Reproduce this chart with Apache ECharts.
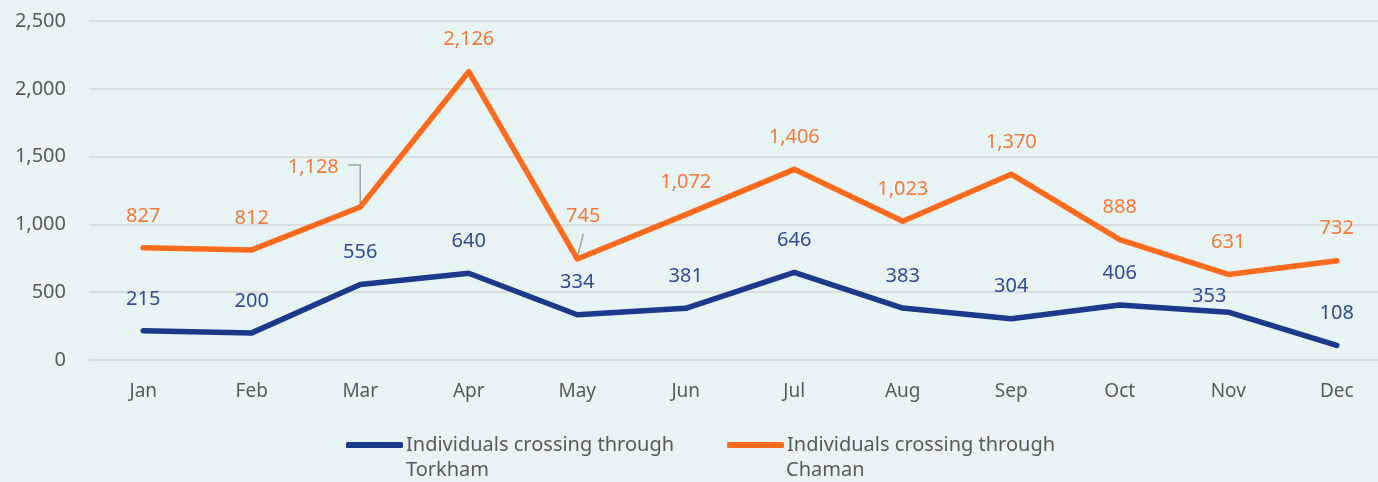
<!DOCTYPE html>
<html><head><meta charset="utf-8">
<style>html,body{margin:0;padding:0;background:#e8f3f3;overflow:hidden;}#c{width:1391px;height:482px;}</style>
<script src="https://cdn.jsdelivr.net/npm/echarts@6/dist/echarts.min.js"></script>
</head><body><div id="c"></div>
<script>
const months = ['Jan','Feb','Mar','Apr','May','Jun','Jul','Aug','Sep','Oct','Nov','Dec'];
const torkham = [215,200,556,640,334,381,646,383,304,406,353,108];
const chaman = [827,812,1128,2126,745,1072,1406,1023,1370,888,631,732];
const seriesNames = ['Individuals crossing through Torkham','Individuals crossing through Chaman'];
const yTicks = {min:0, max:2500, interval:500};

const FONT = '"Noto Sans", sans-serif';
const chart = echarts.init(document.getElementById('c'));
const fmt = v => v.toLocaleString('en-US');
chart.setOption({
  backgroundColor:'#e8f3f3',
  animation:false,
  grid:{left:89, top:21, right:0, height:339},
  xAxis:{type:'category', data:months, boundaryGap:true,
    axisLine:{show:false}, axisTick:{show:false},
    axisLabel:{color:'#595959', fontSize:19, fontFamily:FONT, margin:22}},
  yAxis:{type:'value', min:yTicks.min, max:yTicks.max, interval:yTicks.interval,
    axisLabel:{color:'#595959', fontSize:20, fontFamily:FONT, margin:23, formatter:fmt},
    splitLine:{lineStyle:{color:'#d6d6d6', width:1.5}}},
  legend:{left:341, top:430, itemWidth:57, itemHeight:6, itemGap:53, icon:'roundRect',
    selectedMode:false,
    formatter: n => n.replace(/ (Torkham|Chaman)$/, ''),
    textStyle:{color:'#595959', fontSize:20, fontFamily:FONT, padding:[0,0,0,-2]},
    data:seriesNames},
  series:[
    {name:seriesNames[0], type:'line', data:torkham, symbol:'circle', symbolSize:0, z:3,
      lineStyle:{color:'#1b3a8c', width:5.5, cap:'round', join:'round'}, itemStyle:{color:'#1b3a8c'},
      label:{show:true, position:'top', distance:22, color:'#2f4a9a', fontSize:20, fontFamily:FONT, formatter:p=>fmt(p.value)},
      labelLayout: function(p){
        if(p.dataIndex===10) return {dx:-19, dy:16};
        return {};
      }},
    {name:seriesNames[1], type:'line', data:chaman, symbol:'circle', symbolSize:0, z:2,
      lineStyle:{color:'#fc6a1e', width:5.5, cap:'round', join:'round'}, itemStyle:{color:'#fc6a1e'},
      label:{show:true, position:'top', distance:22, color:'#f47a3a', fontSize:20, fontFamily:FONT, formatter:p=>fmt(p.value)},
      labelLayout: function(p){
        if(p.dataIndex===2) return {dx:-47, dy:-8};
        if(p.dataIndex===4) return {dx:6, dy:-11};
        return {};
      }}
  ]
});
const pMar = chart.convertToPixel({seriesIndex:1}, [2, chaman[2]]);
const pMay = chart.convertToPixel({seriesIndex:1}, [4, chaman[4]]);
const leader = {stroke:'#a6a6a6', lineWidth:1.5, fill:null};
chart.setOption({graphic:[
  {type:'text', left:406, top:460, style:{text:'Torkham', fill:'#595959', font:'20px "Noto Sans"'}},
  {type:'text', left:786, top:460, style:{text:'Chaman', fill:'#595959', font:'20px "Noto Sans"'}},
  {type:'polyline', z:1, shape:{points:[[pMar[0]-12,pMar[1]-42],[pMar[0],pMar[1]-42],[pMar[0],pMar[1]-2]]}, style:leader},
  {type:'line', z:1, shape:{x1:pMay[0]+6, y1:pMay[1]-25, x2:pMay[0], y2:pMay[1]-1}, style:leader}
]});
</script></body></html>
